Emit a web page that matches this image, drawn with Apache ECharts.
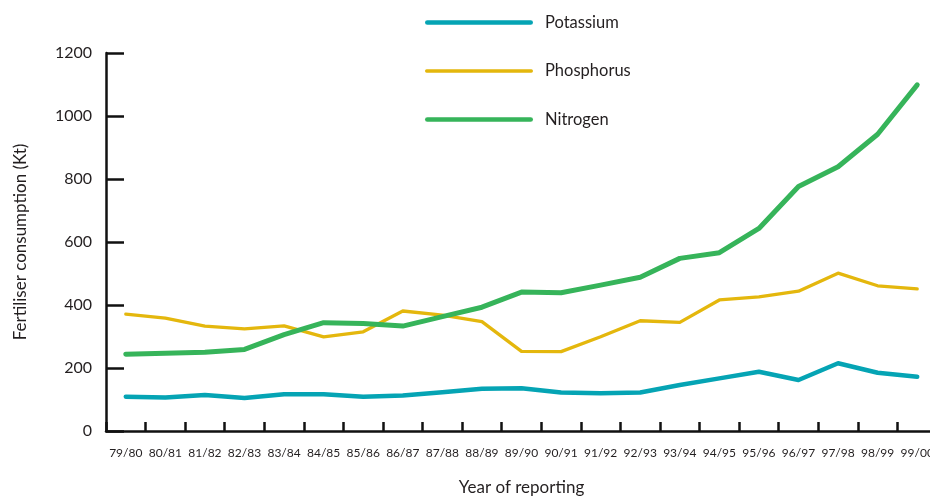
<!DOCTYPE html>
<html>
<head>
<meta charset="utf-8">
<script src="https://cdn.jsdelivr.net/npm/echarts@6/dist/echarts.min.js"></script>
<style>
  html, body { margin: 0; padding: 0; background: #ffffff; overflow: hidden; width: 930px; height: 497px; }
  #chart { position: absolute; left: 0; top: 0; width: 930px; height: 497px; }
</style>
</head>
<body>
<div id="chart"></div>
<script>
// Reporting years
const years = ['79/80', '80/81', '81/82', '82/83', '83/84', '84/85', '85/86', '86/87',
  '87/88', '88/89', '89/90', '90/91', '91/92', '92/93', '93/94', '94/95', '95/96',
  '96/97', '97/98', '98/99', '99/00'];

// Fertiliser consumption (Kt)
const potassium = [109, 106, 114, 105, 117, 117, 109, 113, 123, 134, 136, 122, 120, 122,
  146, 167, 188, 162, 215, 185, 172];
const phosphorus = [371, 358, 333, 324, 334, 299, 315, 381, 368, 347, 253, 252, 299, 350,
  345, 416, 426, 444, 501, 461, 451];
const nitrogen = [244, 247, 250, 259, 306, 344, 341, 333, 363, 393, 441, 439, 463, 488,
  548, 566, 643, 776, 839, 942, 1099];

const yTicks = { min: 0, max: 1200, step: 200 };

const FONT = 'Lato, "Open Sans", sans-serif';
const TEXT = '#231f20';
const colours = { potassium: '#05a4b4', phosphorus: '#e4b70d', nitrogen: '#36b45a' };
const widths = { potassium: 4.5, phosphorus: 3.3, nitrogen: 5 };

// Legend swatch: a round-ended bar of thickness t, centred in a W x H box.
// Two zero-area subpaths pin the path's bounds to the full box so it is not stretched.
const SW_W = 108, SW_H = 14;
function swatch(t) {
  const r = t / 2, y0 = SW_H / 2 - r, y1 = SW_H / 2 + r;
  return 'path://M0,0L0,0M' + SW_W + ',' + SW_H + 'L' + SW_W + ',' + SW_H +
    'M' + r + ',' + y0 + 'L' + (SW_W - r) + ',' + y0 +
    'A' + r + ',' + r + ',0,0,1,' + (SW_W - r) + ',' + y1 +
    'L' + r + ',' + y1 +
    'A' + r + ',' + r + ',0,0,1,' + r + ',' + y0 + 'Z';
}

const chart = echarts.init(document.getElementById('chart'), null, { width: 930, height: 497 });

function lineSeries(name, data, key) {
  return {
    name: name,
    type: 'line',
    data: data,
    symbol: 'none',
    smooth: false,
    lineStyle: { color: colours[key], width: widths[key], cap: 'round', join: 'round' },
    itemStyle: { color: colours[key] },
    emphasis: { disabled: true },
    z: 3
  };
}

chart.setOption({
  animation: false,
  backgroundColor: '#ffffff',
  textStyle: { fontFamily: FONT, color: TEXT },
  grid: { left: 106, top: 53, bottom: 66, right: -7, containLabel: false, outerBoundsMode: 'none' },
  legend: {
    orient: 'vertical',
    left: 425,
    top: 14,
    padding: 0,
    itemWidth: SW_W,
    itemHeight: SW_H,
    itemGap: 31.5,
    selectedMode: false,
    textStyle: { fontFamily: FONT, fontSize: 16.5, color: TEXT, lineHeight: 14, padding: [0, 0, 0, 7] },
    data: [
      { name: 'Potassium', icon: swatch(4.7) },
      { name: 'Phosphorus', icon: swatch(3.3) },
      { name: 'Nitrogen', icon: swatch(4.7) }
    ]
  },
  xAxis: {
    type: 'category',
    data: years,
    boundaryGap: true,
    name: 'Year of reporting',
    nameLocation: 'middle',
    nameGap: 48,
    nameTextStyle: { fontFamily: FONT, fontSize: 17, color: TEXT },
    axisLine: { lineStyle: { color: '#111111', width: 2.5 } },
    axisTick: { show: true, inside: true, length: 9, lineStyle: { color: '#111111', width: 2.5 } },
    axisLabel: { fontFamily: FONT, fontSize: 12, color: TEXT, margin: 16, interval: 0 },
    splitLine: { show: false }
  },
  yAxis: {
    type: 'value',
    min: yTicks.min,
    max: yTicks.max,
    interval: yTicks.step,
    name: 'Fertiliser consumption (Kt)',
    nameLocation: 'middle',
    nameGap: 77,
    nameRotate: 90,
    nameTextStyle: { fontFamily: FONT, fontSize: 17, color: TEXT },
    axisLine: { show: true, lineStyle: { color: '#111111', width: 2.5 } },
    axisTick: { show: true, inside: true, length: 18, lineStyle: { color: '#111111', width: 2.5 } },
    axisLabel: { fontFamily: FONT, fontSize: 16, color: TEXT, margin: 14, formatter: (v) => String(v) },
    splitLine: { show: false }
  },
  series: [
    lineSeries('Potassium', potassium, 'potassium'),
    lineSeries('Phosphorus', phosphorus, 'phosphorus'),
    lineSeries('Nitrogen', nitrogen, 'nitrogen')
  ]
});
</script>
</body>
</html>
